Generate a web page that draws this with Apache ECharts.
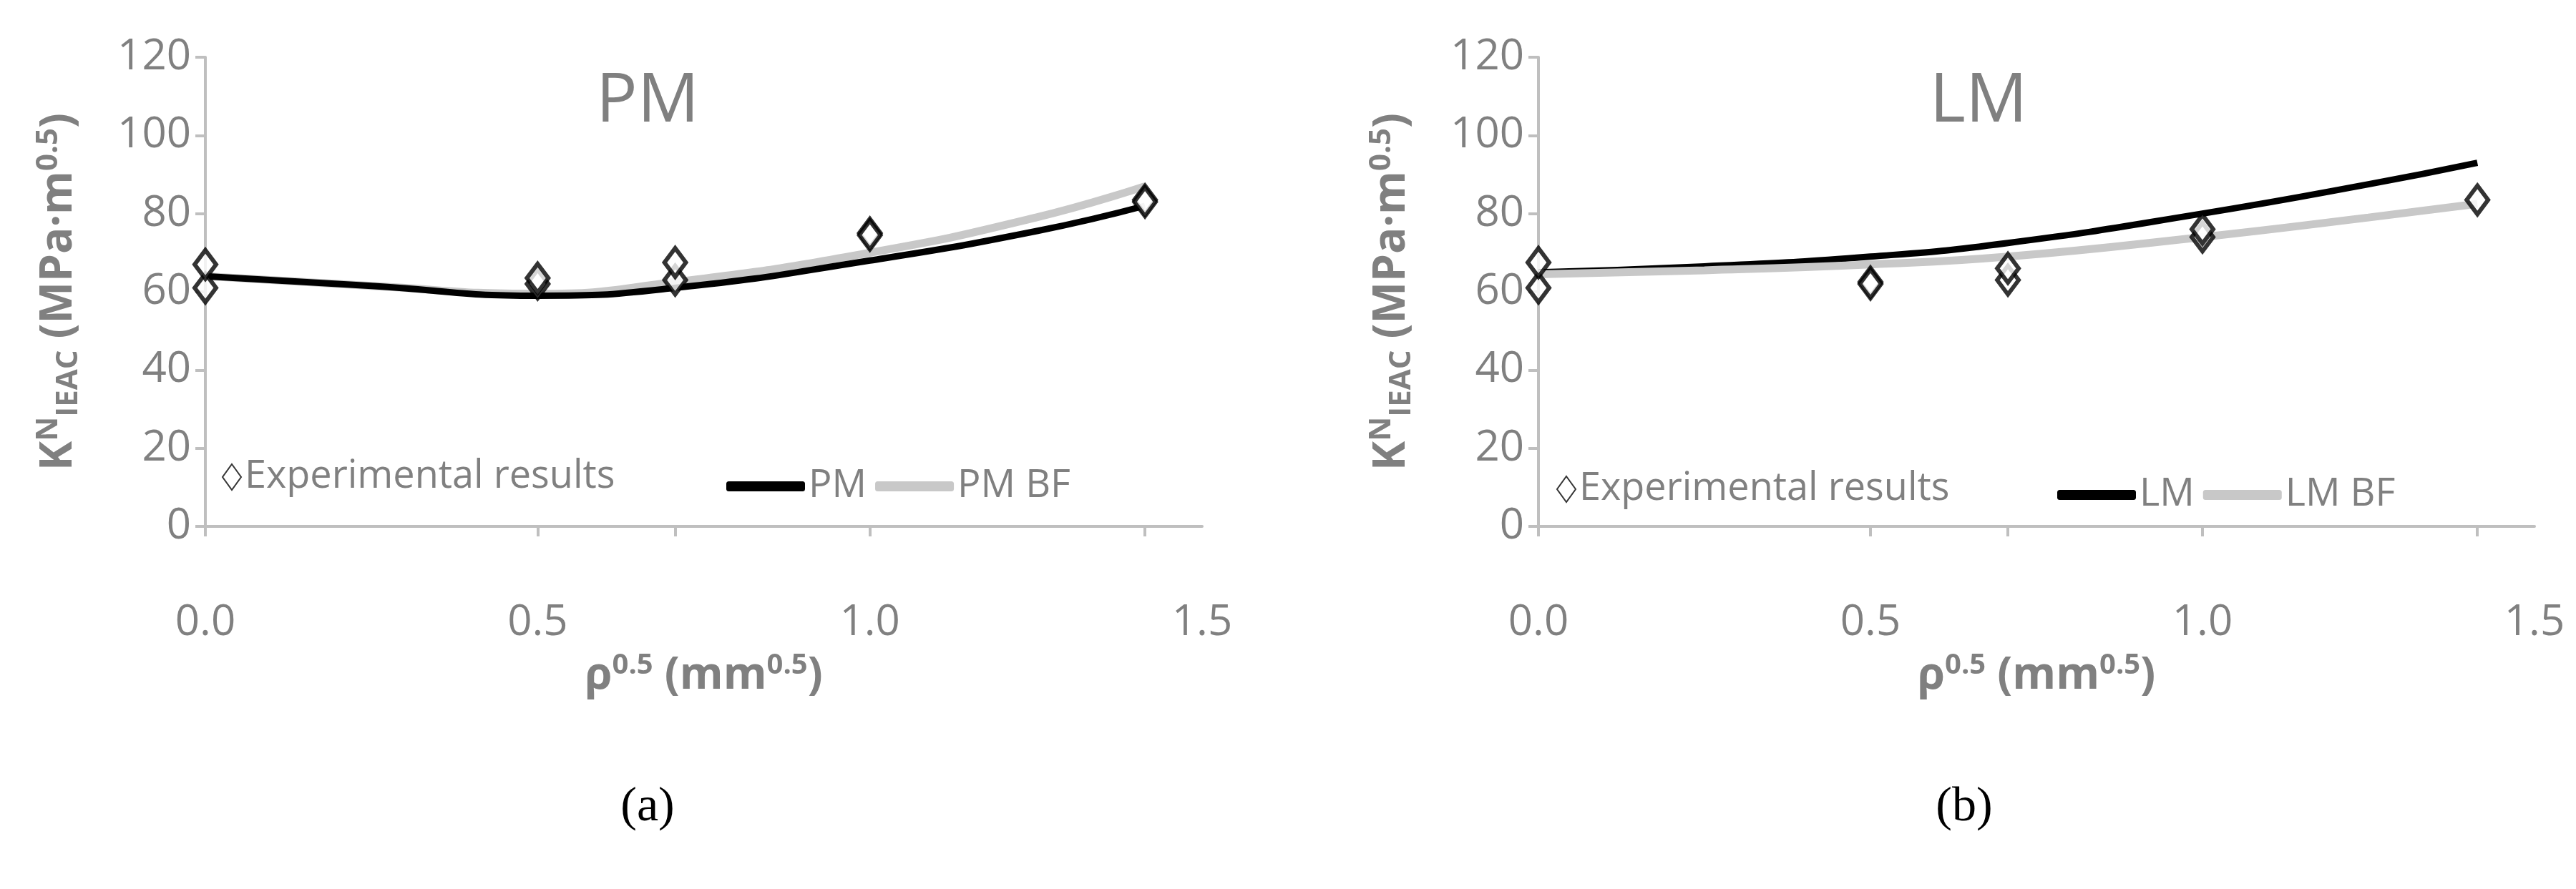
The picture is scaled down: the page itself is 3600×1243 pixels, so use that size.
<!DOCTYPE html>
<html>
<head>
<meta charset="UTF-8">
<script src="https://cdn.jsdelivr.net/npm/echarts@6/dist/echarts.min.js"></script>
<style>body{margin:0;background:#fff}#main{width:3600px;height:1243px}</style>
</head>
<body>
<div id="main"></div>
<script>
// experimental points
var expPM = [[0,61],[0,67],[0.5,62],[0.5,63.5],[0.707,63],[0.707,67.5],[1,75],[1,74.5],[1.414,83.5],[1.414,83]];
var expLM = [[0,61],[0,67.5],[0.5,62.5],[0.5,62],[0.707,63],[0.707,66],[1,74],[1,76],[1.414,83.5]];
// model curves
var linePM   = [[0,64],[0.25,61.5],[0.5,59],[0.707,61],[1,68],[1.25,75.5],[1.414,82]];
var linePMBF = [[0,64],[0.25,61.5],[0.5,59.5],[0.707,62.5],[1,70],[1.25,79],[1.414,87]];
var lineLM   = [[0,65],[0.25,66.5],[0.5,69],[0.707,72.5],[1,80],[1.25,87.5],[1.414,93]];
var lineLMBF = [[0,64.5],[0.25,65.5],[0.5,67],[0.707,69],[1,74],[1.25,79],[1.414,82.5]];
var xTicks = [0, 0.5, 0.707, 1, 1.414];

var gray = '#808080', axisGray = '#bfbfbf';
var font = '"Open Sans", "Liberation Sans", sans-serif';

function xAx(i){
  return {gridIndex:i, type:'value', min:0, max:1.5, interval:0.5,
    axisLine:{lineStyle:{color:axisGray, width:4}},
    axisTick:{customValues:xTicks, length:14, lineStyle:{color:axisGray, width:4}},
    splitLine:{show:false},
    axisLabel:{color:gray, fontSize:60, fontFamily:font, margin:105, formatter:function(v){return v.toFixed(1);}},
    name:'{b|ρ}{s|0.5}{b| (mm}{s|0.5}{b|)}', nameLocation:'middle', nameGap:175,
    nameTextStyle:{rich:{b:{fontSize:62, fontWeight:'bold', color:gray, fontFamily:font},
      s:{fontSize:40, fontWeight:'bold', color:gray, fontFamily:font, verticalAlign:'top', padding:[0,0,28,0]}}}};
}
function yAx(i){
  return {gridIndex:i, type:'value', min:0, max:120, interval:20,
    axisLine:{show:true, lineStyle:{color:axisGray, width:4}},
    axisTick:{show:true, length:14, lineStyle:{color:axisGray, width:4}},
    splitLine:{show:false},
    axisLabel:{color:gray, fontSize:60, fontFamily:font, margin:20},
    name:'{b|K}{s|N}{u|IEAC}{b| (MPa·m}{s|0.5}{b|)}', nameLocation:'middle', nameRotate:90, nameGap:170,
    nameTextStyle:{rich:{b:{fontSize:62, fontWeight:'bold', color:gray, fontFamily:font},
      s:{fontSize:42, fontWeight:'bold', color:gray, fontFamily:font, verticalAlign:'top', padding:[0,0,28,0]},
      u:{fontSize:42, fontWeight:'bold', color:gray, fontFamily:font, verticalAlign:'bottom', padding:[24,0,0,0]}}}};
}
function sc(name,data,i){
  return {name:name, type:'scatter', xAxisIndex:i, yAxisIndex:i, data:data, symbol:'diamond', symbolSize:[30,40],
    itemStyle:{color:'#fff', borderColor:'#000', borderWidth:6}, z:5};
}
function ln(name,data,i,color,w){
  return {name:name, type:'line', xAxisIndex:i, yAxisIndex:i, data:data, smooth:0.5, showSymbol:false,
    lineStyle:{color:color, width:w}, itemStyle:{color:color}, z:3};
}
var legText = {color:gray, fontSize:54, fontFamily:font};
var chart = echarts.init(document.getElementById('main'));
chart.setOption({
  animation:false,
  title:[
    {text:'PM', left:900, top:90, textAlign:'center', textStyle:{color:gray, fontSize:96, fontWeight:'normal', fontFamily:font}},
    {text:'LM', left:2760, top:90, textAlign:'center', textStyle:{color:gray, fontSize:96, fontWeight:'normal', fontFamily:font}},
    {text:'(a)', left:900, top:1090, textAlign:'center', textStyle:{color:'#000', fontSize:68, fontWeight:'normal', fontFamily:'"Liberation Serif", serif'}},
    {text:'(b)', left:2740, top:1090, textAlign:'center', textStyle:{color:'#000', fontSize:68, fontWeight:'normal', fontFamily:'"Liberation Serif", serif'}}
  ],
  grid:[{left:287, right:1920, top:80, bottom:507}, {left:2150, right:58, top:80, bottom:507}],
  xAxis:[xAx(0), xAx(1)],
  yAxis:[yAx(0), yAx(1)],
  legend:[
    {data:[{name:'Experimental results', icon:'diamond'}], left:310, top:640, itemWidth:26, itemHeight:36, itemGap:10, textStyle:legText, padding:[0,60,0,0]},
    {data:[{name:'PM', icon:'roundRect'}, {name:'PM BF', icon:'roundRect'}],
     left:1010, top:648, itemWidth:110, itemHeight:14, itemGap:12, textStyle:legText},
    {data:[{name:'Experimental results ', icon:'diamond'}], left:2170, top:652, itemWidth:26, itemHeight:36, itemGap:10, textStyle:legText},
    {data:[{name:'LM', icon:'roundRect'}, {name:'LM BF', icon:'roundRect'}],
     left:2870, top:660, itemWidth:110, itemHeight:14, itemGap:12, textStyle:legText}
  ],
  series:[
    ln('PM BF', linePMBF, 0, '#c8c8c8', 11),
    ln('PM', linePM, 0, '#000', 9),
    sc('Experimental results', expPM, 0),
    ln('LM', lineLM, 1, '#000', 9),
    ln('LM BF', lineLMBF, 1, '#c8c8c8', 11),
    sc('Experimental results ', expLM, 1)
  ]
});
</script>
</body>
</html>
